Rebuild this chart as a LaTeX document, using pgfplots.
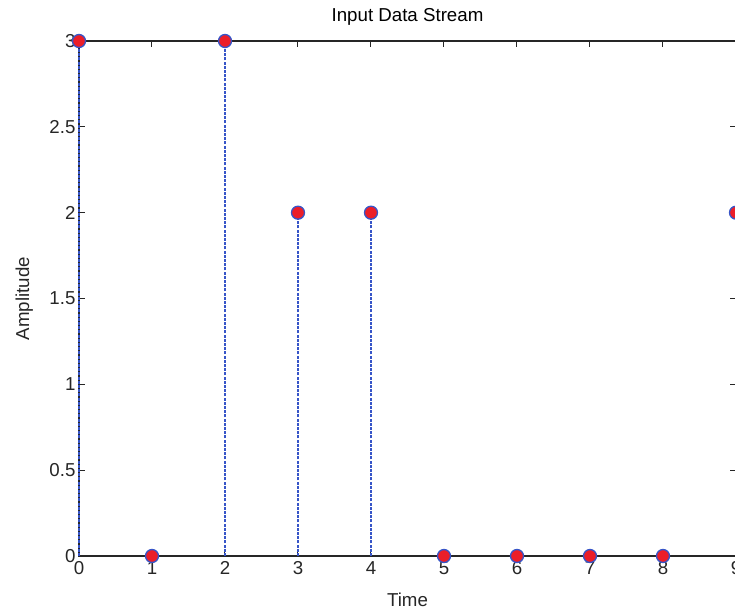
\documentclass[border=0pt]{standalone}
\usepackage{pgfplots}
\pgfplotsset{compat=1.18}
\usepackage{fontspec}
\setmainfont{Liberation Sans}
\definecolor{stemblue}{RGB}{55,85,200}
\definecolor{mkred}{RGB}{235,30,40}
\definecolor{axgray}{RGB}{38,38,38}
\begin{document}
\begin{tikzpicture}
\useasboundingbox (0,0) rectangle (735bp,609bp);
\begin{axis}[
  at={(79bp,53bp)}, anchor=south west,
  scale only axis, width=657bp, height=515bp,
  xmin=0, xmax=9, ymin=0, ymax=3,
  xtick={0,1,...,9}, ytick={0,0.5,1,1.5,2,2.5,3},
  yticklabels={0,0.5,1,1.5,2,2.5,3},
  tick align=inside, major tick length=6bp,
  tick style={axgray, line width=1bp},
  axis line style={axgray, line width=1.4bp},
  every tick label/.append style={font=\fontsize{18.7bp}{22bp}\selectfont, text=axgray},
  /pgf/number format/assume math mode=true,
  xticklabel style={yshift=-2bp},
  label style={font=\fontsize{18.7bp}{22bp}\selectfont, text=axgray},
  title style={font=\fontsize{18.7bp}{22bp}\selectfont, text=black, at={(axis description cs:0.5,1)}, anchor=base, yshift=14bp},
  xlabel style={at={(axis description cs:0.5,0)}, anchor=base, yshift=-50bp},
  ylabel style={at={(axis description cs:-0.0761,0.5)}, anchor=base},
  title={Input Data Stream},
  xlabel={Time}, ylabel={Amplitude},
  clip=false,
]
\addplot[ycomb, stemblue, line width=1.1bp, dash pattern=on 3bp off 1.2bp,
  mark=*, mark size=6.5bp, mark options={solid, draw=stemblue, fill=mkred, line width=1.3bp}]
  coordinates {(0,3) (1,0) (2,3) (3,2) (4,2) (5,0) (6,0) (7,0) (8,0) (9,2)};
\end{axis}
\end{tikzpicture}
\end{document}
